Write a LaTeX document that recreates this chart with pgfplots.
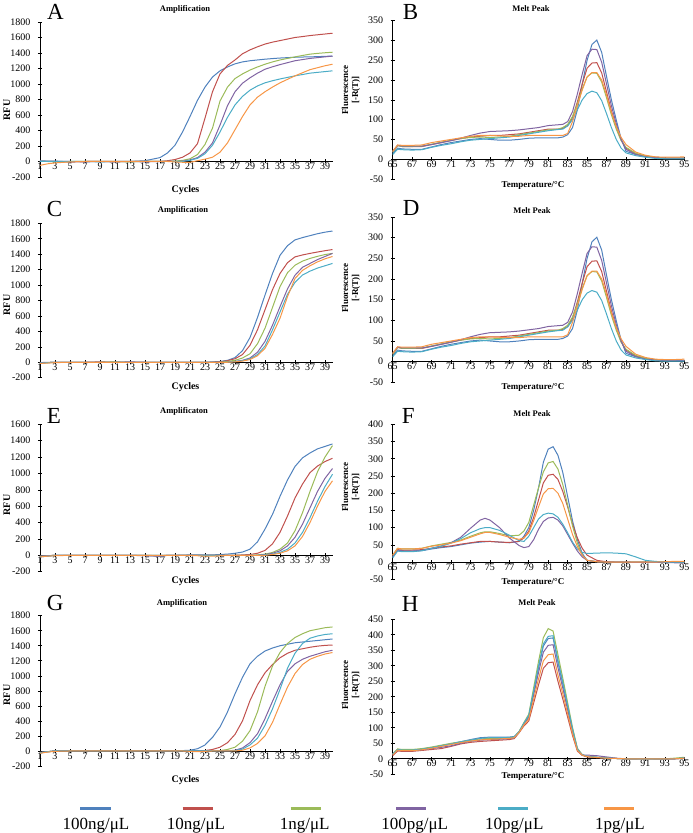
\documentclass[border=0pt]{standalone}
\usepackage{fontspec}
\setmainfont{Liberation Serif}
\usepackage{pgfplots}
\usepackage{pgfplotstable}
\pgfplotsset{compat=1.18}

\definecolor{cBlue}{HTML}{4F81BD}
\definecolor{cRed}{HTML}{C0504D}
\definecolor{cGreen}{HTML}{9BBB59}
\definecolor{cPurple}{HTML}{8064A2}
\definecolor{cAqua}{HTML}{4BACC6}
\definecolor{cOrange}{HTML}{F79646}

% ---------- Amplification data (cycle, 100ng, 10ng, 1ng, 100pg, 10pg, 1pg)
\pgfplotstableread{
x b r g p a o
1 10 0 0 0 0 -50
2 5 0 0 0 0 -30
3 5 0 -5 0 0 -18
5 -5 -5 0 0 0 -5
7 0 0 0 -5 0 0
9 0 0 0 0 -5 0
11 -5 -5 0 0 0 0
13 0 0 -5 0 0 0
15 10 0 0 -5 0 0
17 50 0 0 0 0 0
18 110 10 0 0 0 0
19 210 25 5 0 0 -5
20 380 55 15 5 0 -10
21 580 110 35 20 15 -10
22 790 230 90 50 40 10
23 960 560 220 120 100 30
24 1090 900 430 240 210 55
25 1170 1130 780 470 380 120
26 1220 1240 960 720 570 240
27 1260 1310 1070 900 730 410
28 1285 1390 1130 1010 840 580
29 1300 1440 1180 1080 920 730
30 1310 1480 1220 1140 975 830
31 1320 1515 1255 1190 1015 900
32 1328 1540 1285 1222 1042 960
33 1335 1560 1310 1250 1065 1015
34 1340 1580 1330 1275 1085 1060
35 1345 1600 1350 1300 1105 1105
36 1348 1612 1368 1315 1122 1145
37 1350 1625 1385 1330 1140 1185
38 1353 1635 1395 1340 1150 1210
39 1357 1645 1403 1350 1160 1235
40 1360 1655 1410 1360 1170 1255
}\tA

\pgfplotstableread{
x b r g p a o
1 -10 -10 -5 -5 -10 -15
2 -5 -5 -5 0 -5 -10
3 0 0 0 0 0 -5
5 0 0 0 0 0 0
7 0 0 0 0 0 0
9 0 5 0 0 0 0
11 0 0 5 0 0 0
13 0 0 0 5 0 0
15 0 0 0 0 0 0
17 0 0 0 0 0 0
19 0 0 0 0 0 0
21 0 0 0 0 0 0
23 0 0 0 0 0 0
24 5 0 0 0 0 0
25 10 5 0 0 0 0
26 25 20 10 0 0 0
27 60 45 25 10 10 5
28 150 100 55 25 20 15
29 320 220 110 55 45 35
30 580 420 240 130 100 85
31 870 680 440 270 210 180
32 1150 940 710 480 420 360
33 1385 1150 980 720 650 570
34 1510 1290 1160 950 880 850
35 1585 1365 1257 1127 1035 1085
36 1615 1390 1310 1230 1130 1190
37 1640 1410 1345 1280 1180 1250
38 1665 1428 1372 1330 1220 1300
39 1685 1445 1395 1370 1250 1340
40 1700 1460 1410 1410 1280 1370
}\tC

\pgfplotstableread{
x b r g p a o
1 -20 -10 -10 -10 -15 -20
2 -10 -5 -5 -5 -10 -10
3 0 0 0 0 0 -5
5 0 0 0 0 0 0
7 0 0 0 0 0 0
9 0 0 0 0 0 0
11 0 0 0 0 0 0
13 0 0 0 0 0 0
15 0 0 0 -5 0 0
17 -15 0 0 -10 0 -5
18 0 0 0 0 0 0
19 0 0 0 0 0 0
21 5 0 0 0 0 0
22 5 0 0 0 0 -5
23 5 0 0 0 0 -10
24 5 0 0 0 0 -10
25 10 0 0 0 0 -5
26 15 0 0 0 0 0
27 25 0 0 0 0 0
28 40 5 0 0 0 0
29 75 10 0 0 0 0
30 165 25 5 0 0 0
31 320 60 15 10 5 0
32 500 140 35 25 15 10
33 720 280 75 55 35 25
34 920 480 150 115 75 55
35 1085 700 300 220 150 115
36 1190 870 520 380 280 230
37 1250 1010 780 580 460 400
38 1300 1090 1020 780 660 600
39 1330 1145 1200 940 840 780
40 1360 1185 1340 1060 990 910
}\tE

\pgfplotstableread{
x b r g p a o
1 -30 -20 -25 -20 -20 -30
2 -10 -10 -10 -10 -10 -15
3 0 0 0 0 0 -5
5 0 0 0 0 0 0
7 0 0 0 0 0 0
9 0 5 0 0 0 0
11 5 0 0 0 0 0
13 0 0 0 0 0 0
15 0 0 0 0 0 0
17 0 0 0 0 0 0
19 0 0 0 0 0 0
20 5 0 0 0 0 0
21 10 0 0 0 0 -5
22 30 0 0 0 0 -10
23 80 5 0 0 0 -5
24 180 20 0 0 0 0
25 320 50 5 0 0 0
26 520 110 20 0 0 0
27 760 220 50 10 5 0
28 980 400 130 40 25 10
29 1160 670 270 110 80 40
30 1260 880 520 230 170 100
31 1330 1040 860 430 340 200
32 1370 1150 1130 660 560 380
33 1400 1240 1310 880 820 620
34 1420 1300 1430 1060 1100 850
35 1440 1340 1510 1160 1300 1030
36 1450 1360 1560 1220 1430 1150
37 1460 1380 1600 1260 1500 1220
38 1470 1395 1620 1290 1530 1260
39 1480 1405 1640 1320 1550 1290
40 1490 1410 1650 1340 1560 1310
}\tG

% ---------- Melt peak data (temperature, 100ng, 10ng, 1ng, 100pg, 10pg, 1pg)
\pgfplotstableread{
x b r g p a o
65 15 18 18 20 12 20
65.5 28 35 34 35 25 36
66 26 32 32 33 24 35
67 25 32 32 33 23 35
68 25 32 33 33 24 36
69 31 37 38 37 30 42
70 37 42 43 42 35 46
71 42 47 48 47 39 50
72 46 52 52 53 44 54
73 50 56 55 60 48 58
74 52 58 56 66 50 60
75 50 60 55 70 52 60
76 48 60 56 71 54 59
77 48 62 58 72 56 58
78 50 64 62 74 60 58
79 53 68 66 77 64 60
80 54 72 70 80 68 60
81 54 76 74 85 72 60
82 54 76 76 87 75 60
82.5 56 78 80 88 76 60
83 62 85 88 95 84 65
83.5 80 105 108 120 100 95
84 125 145 140 165 125 135
84.5 190 190 178 215 150 175
85 250 230 208 262 166 208
85.5 290 243 218 278 172 219
86 301 244 217 277 168 219
86.5 270 218 195 245 148 200
87 209 170 155 190 115 162
87.5 150 122 112 135 80 118
88 99 82 76 90 50 82
88.5 52 48 47 50 28 55
89 20 28 30 25 16 37
90 12 14 15 12 9 18
91 8 7 8 6 5 10
92 4 5 5 4 2 6
93 2 3 3 3 1 5
94 2 3 3 3 1 5
95 2 3 3 3 1 6
}\tB

\pgfplotstableread{
x b r g p a o
65 15 18 20 15 12 20
65.5 35 36 40 33 32 40
66 33 35 38 32 30 38
67 32 35 38 32 30 38
68 33 36 40 34 33 40
69 38 40 47 40 40 46
70 42 44 52 47 46 50
71 45 47 57 56 55 55
72 50 52 64 72 68 62
73 55 56 75 98 85 72
74 58 60 85 122 97 82
74.5 59 60 88 127 100 86
75 60 60 88 122 100 86
76 58 58 83 100 92 80
77 56 57 76 70 78 72
78 60 60 78 48 62 66
78.5 75 70 90 42 60 70
79 100 90 115 45 75 85
79.5 150 130 165 65 100 120
80 215 180 215 95 125 160
80.5 290 230 262 118 138 198
81 328 252 288 128 142 213
81.5 335 255 292 130 140 214
82 310 240 270 122 130 200
82.5 260 205 225 105 110 170
83 190 160 165 80 85 125
83.5 120 110 105 55 58 80
84 65 70 55 32 38 45
84.5 25 40 20 15 28 20
85 5 20 5 5 25 5
86 1 5 1 1 26 1
87 0 1 0 0 27 0
88 0 0 0 0 26 0
89 0 0 0 0 24 0
90 0 0 0 -1 15 0
91 0 0 0 -1 5 0
92 0 0 0 -1 2 0
93 0 0 0 -1 0 1
94 0 0 0 -2 0 2
95 0 0 0 -2 0 2
}\tF

\pgfplotstableread{
x b r g p a o
65 15 10 15 12 15 12
65.5 30 25 32 28 30 28
66 28 24 30 26 28 26
67 28 24 30 26 28 26
68 31 27 33 29 31 29
69 36 30 38 33 36 34
70 42 33 44 37 42 40
71 48 40 50 42 48 46
72 55 48 55 50 55 52
73 62 53 60 56 60 57
74 68 56 64 60 66 61
75 70 58 66 62 68 63
76 70 60 66 63 68 64
77 70 62 68 65 69 66
77.5 72 65 70 67 71 68
78 87 84 88 86 87 85
78.5 114 106 117 112 115 109
79 138 122 144 134 140 128
79.5 216 180 229 206 219 192
80 293 238 314 278 299 257
80.5 364 292 391 344 371 316
81 388 310 420 366 395 336
81.5 390 312 412 368 397 338
82 312 250 336 294 318 270
82.5 242 193 260 228 247 210
83 168 134 181 158 171 145
83.5 94 75 101 88 96 81
84 31 25 34 29 32 27
84.5 13 11 13 12 13 12
85 8 6 8 12 8 7
86 5 4 5 10 5 4
87 3 2 3 6 3 2
88 1 1 1 2 1 1
89 0 0 0 0 0 0
90 0 0 0 0 0 0
91 0 1 0 0 0 0
92 0 0 0 0 0 0
93 0 0 0 0 0 0
94 0 0 2 0 0 0
95 2 2 5 2 3 2
}\tH

\newcommand\sixplots[1]{%
\addplot[cBlue] table[x=x,y=b]{#1};
\addplot[cRed] table[x=x,y=r]{#1};
\addplot[cGreen] table[x=x,y=g]{#1};
\addplot[cPurple] table[x=x,y=p]{#1};
\addplot[cAqua] table[x=x,y=a]{#1};
\addplot[cOrange] table[x=x,y=o]{#1};
}

\pgfplotsset{
  base/.style={
    scale only axis, anchor=south west,
    axis x line=middle, axis y line=left,
    axis line style={-, black, line width=0.8pt},
    tick align=center, major tick length=4pt,
    tick style={black, line width=0.6pt},
    ticklabel style={font=\fontsize{10}{11}\selectfont},
    xticklabel style={yshift=4pt},
    yticklabel style={xshift=-4pt},
    /pgf/number format/assume math mode=true,
    /pgf/number format/1000 sep={},
    scaled ticks=false,
    clip=false,
    hide obscured x ticks=false, hide obscured y ticks=false,
    every axis plot/.append style={line width=1pt},
  },
  amp/.style={base, width=292.5pt, xmin=1, xmax=40, xtick={1,3,...,39}, ymin=-200},
  melt/.style={base, width=291.6pt, xmin=65, xmax=95, xtick={65,67,...,95}, ymin=-50},
}

\newcommand\ttl[1]{{\bfseries\fontsize{8.5}{10}\selectfont #1}}
\newcommand\lbl[1]{{\bfseries\fontsize{10}{11}\selectfont #1}}
\newcommand\lblt[1]{{\bfseries\fontsize{9}{10}\selectfont #1}}

\begin{document}
\begin{tikzpicture}
\useasboundingbox (0,0) rectangle (693pt,833pt);

% A
\begin{axis}[amp, at={(40pt,656pt)}, height=155pt, ymax=1800, ytick={-200,0,...,1800}]
\sixplots{\tA}
\end{axis}
% B
\begin{axis}[melt, at={(392.7pt,654pt)}, height=158.3pt, ymax=350, ytick={-50,0,...,350}]
\sixplots{\tB}
\end{axis}
% C
\begin{axis}[amp, at={(40pt,455.3pt)}, height=154.4pt, ymax=1800, ytick={-200,0,...,1800}]
\sixplots{\tC}
\end{axis}
% D
\begin{axis}[melt, at={(392.7pt,450.7pt)}, height=165.3pt, ymax=350, ytick={-50,0,...,350}]
\sixplots{\tB}
\end{axis}
% E
\begin{axis}[amp, at={(40pt,261.3pt)}, height=147.4pt, ymax=1600, ytick={-200,0,...,1600}]
\sixplots{\tE}
\end{axis}
% F
\begin{axis}[melt, at={(392.7pt,253.7pt)}, height=155pt, ymax=400, ytick={-50,0,...,400}]
\sixplots{\tF}
\end{axis}
% G
\begin{axis}[amp, at={(40pt,67pt)}, height=150.3pt, ymax=1800, ytick={-200,0,...,1800}]
\sixplots{\tG}
\end{axis}
% H
\begin{axis}[melt, at={(392.7pt,58.7pt)}, height=155pt, ymax=450, ytick={-50,0,...,450}]
\sixplots{\tH}
\end{axis}

% panel letters
\begin{scope}[every node/.style={anchor=base west, inner sep=0pt, font=\fontsize{23}{25}\selectfont}]
\node at (47pt,813.7pt) {A};
\node at (402.7pt,813.7pt) {B};
\node at (46.7pt,616.3pt) {C};
\node at (402.7pt,617.3pt) {D};
\node at (46.7pt,409.7pt) {E};
\node at (401.7pt,409.7pt) {F};
\node at (46.7pt,222pt) {G};
\node at (401.7pt,221.3pt) {H};
\end{scope}

% titles
\node at (185pt,824pt) {\ttl{Amplification}};
\node at (531pt,824pt) {\ttl{Melt Peak}};
\node at (183pt,623pt) {\ttl{Amplification}};
\node at (532pt,622pt) {\ttl{Melt Peak}};
\node at (184pt,422pt) {\ttl{Amplificaton}};
\node at (532pt,419pt) {\ttl{Melt Peak}};
\node at (182pt,230pt) {\ttl{Amplification}};
\node at (537pt,230pt) {\ttl{Melt Peak}};

% x labels
\node at (185.5pt,643pt) {\lbl{Cycles}};
\node at (185.5pt,446.3pt) {\lbl{Cycles}};
\node at (185.5pt,252.3pt) {\lbl{Cycles}};
\node at (185.5pt,53pt) {\lbl{Cycles}};
\node at (533pt,648pt) {\lblt{Temperature/°C}};
\node at (533pt,445.3pt) {\lblt{Temperature/°C}};
\node at (533pt,250.5pt) {\lblt{Temperature/°C}};
\node at (533pt,57pt) {\lblt{Temperature/°C}};

% y labels
\node[rotate=90] at (7pt,723pt) {\lbl{RFU}};
\node[rotate=90] at (7pt,528pt) {\lbl{RFU}};
\node[rotate=90] at (7pt,328pt) {\lbl{RFU}};
\node[rotate=90] at (7pt,138pt) {\lbl{RFU}};
\begin{scope}[every node/.style={rotate=90, align=center, inner sep=1pt, font=\bfseries\fontsize{9}{10}\selectfont}]
\node at (351pt,743pt) {Fluorescence\\{[-R(T)]}};
\node at (351pt,545pt) {Fluorescence\\{[-R(T)]}};
\node at (351pt,346pt) {Fluorescence\\{[-R(T)]}};
\node at (351pt,148pt) {Fluorescence\\{[-R(T)]}};
\end{scope}

% shared legend
\begin{scope}[line width=3pt]
\draw[cBlue] (80pt,24pt) -- (111pt,24pt);
\draw[cRed] (182.7pt,24pt) -- (213.3pt,24pt);
\draw[cGreen] (290.7pt,24pt) -- (320.7pt,24pt);
\draw[cPurple] (396.3pt,24pt) -- (426.3pt,24pt);
\draw[cAqua] (498pt,24pt) -- (528pt,24pt);
\draw[cOrange] (604pt,24pt) -- (634pt,24pt);
\end{scope}
\begin{scope}[every node/.style={anchor=base, inner sep=0pt, font=\fontsize{17}{19}\selectfont}]
\node at (96pt,3pt) {100ng/μL};
\node at (196pt,3pt) {10ng/μL};
\node at (304.7pt,3pt) {1ng/μL};
\node at (414.7pt,3pt) {100pg/μL};
\node at (514.3pt,3pt) {10pg/μL};
\node at (620pt,3pt) {1pg/μL};
\end{scope}
\end{tikzpicture}
\end{document}
